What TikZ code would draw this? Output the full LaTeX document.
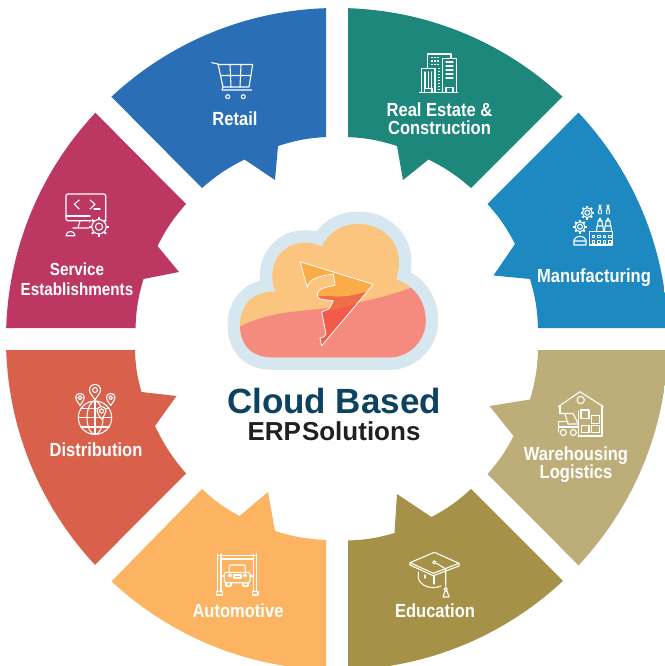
\documentclass[tikz,border=0pt]{standalone}
\usepackage{fontspec}
\setmainfont{Liberation Sans}
\newfontfamily\labfont[FakeStretch=0.87]{Liberation Sans}
\definecolor{cRetail}{HTML}{2A6EB5}
\definecolor{cEstate}{HTML}{1E877B}
\definecolor{cManu}{HTML}{1E88C0}
\definecolor{cWare}{HTML}{BDAD78}
\definecolor{cEdu}{HTML}{A59148}
\definecolor{cAuto}{HTML}{FCB462}
\definecolor{cDist}{HTML}{D9604B}
\definecolor{cServ}{HTML}{BC3863}
\definecolor{cHalo}{HTML}{D6E7F0}
\definecolor{cCloud}{HTML}{FBC580}
\definecolor{cSalmon}{HTML}{F58B7F}
\definecolor{cFa}{HTML}{FAAC48}
\definecolor{cFb}{HTML}{EF6E48}
\definecolor{cFc}{HTML}{F25A4A}
\definecolor{cTitle}{HTML}{0D4261}
\definecolor{cSub}{HTML}{231F20}
\newcommand{\cloudpath}{(271.7,357.3) -- (390,357.3)
 .. controls (410,357.3) and (425.7,340) .. (425.7,320.7)
 .. controls (425.7,300) and (413,285) .. (396,279.3)
 .. controls (398,274) and (399,268) .. (399,261.7)
 .. controls (399,240) and (381,224) .. (358.3,224)
 .. controls (340,224) and (328.3,233.3) .. (321.7,246.7)
 .. controls (316,243.5) and (311,242.7) .. (305,242.7)
 .. controls (285,242.7) and (272.3,258) .. (272.3,276)
 .. controls (272.3,283) and (273,288) .. (276,291.7)
 .. controls (252,290) and (240,306.7) .. (240,325)
 .. controls (240,345) and (252,357.3) .. (271.7,357.3) -- cycle}
\newcommand{\fpath}{(300,261.7) -- (373.3,284.3) -- (321.7,345.7) -- (320,338.3)
 .. controls (323,337) and (326,336.5) .. (326,334)
 -- (321.7,312) .. controls (326,310) and (330,309) .. (330.7,306)
 -- (333.3,300.7) -- (322,299.5) .. controls (317,299) and (316,294) .. (319,290.5)
 .. controls (322,287) and (330,287) .. (335,285)
 -- (333.3,274) .. controls (322,276) and (310,277) .. (307.3,287.3) -- cycle}
\tikzset{
 seg/.style={fill=#1,draw=none},
 icon/.style={draw=white,line width=1.1pt,line join=round,line cap=round},
 lab/.style={text=white,font=\labfont\bfseries\fontsize{19}{18}\selectfont,inner sep=0pt,align=center},
 labsmall/.style={lab,font=\labfont\bfseries\fontsize{17.5}{18}\selectfont},
 arcb/.style={bend left=7}
}
\newcommand{\gearic}[4]{%
 \fill[#4] (#1,#2) circle ({#3*1pt});
 \foreach \a in {0,45,...,315}
  \draw[icon,shift={(#1,#2)},line width=1.9pt,line cap=butt] (\a:{#3*0.72pt}) -- (\a:{#3*1pt});
 \draw[icon] (#1,#2) circle ({#3*0.72pt});
 \draw[icon] (#1,#2) circle ({#3*0.36pt});}
\newcommand{\pinic}[4]{%
 \filldraw[icon,fill=#4,shift={(#1,#2)},scale=#3] (0,1.8) .. controls (-.4,1.1) and (-1,.6) .. (-1,0)
  .. controls (-1,-.6) and (-.6,-1) .. (0,-1) .. controls (.6,-1) and (1,-.6) .. (1,0)
  .. controls (1,.6) and (.4,1.1) .. (0,1.8) -- cycle;
 \draw[icon] (#1,#2) circle ({#3*0.45pt});}
\begin{document}
\begin{tikzpicture}[x=1pt,y=-1pt]
\useasboundingbox (0,0) rectangle (664,666);
% ---------- segments
\begin{scope}
\clip (337,339) circle (331pt);
\fill[seg=cRetail] (202,188) to[arcb] (244.5,159.5) -- (275,180) -- (278,146) to[arcb] (326,137) -- (326,-5) -- (60,-5) -- (60,45) -- cycle;
\fill[seg=cServ] (135.5,328) to[arcb] (143.5,279) -- (179,272) -- (157.5,246) to[arcb] (186,204) -- (45,62) -- (-5,62) -- (-5,328) -- cycle;
\fill[seg=cEstate] (348,137) to[arcb] (397,146) -- (403,180) -- (428.5,159.5) to[arcb] (471,188) -- (620,39) -- (620,-5) -- (348,-5) -- cycle;
\fill[seg=cManu] (487.5,204) to[arcb] (515,244) -- (493.5,275.5) -- (530,279) to[arcb] (538,328) -- (670,328) -- (670,61) -- (630,61) -- cycle;
\fill[seg=cWare] (538,350) to[arcb] (530,399.5) -- (489.5,406) -- (513.5,436) to[arcb] (487.5,474) -- (630,617) -- (670,617) -- (670,350) -- cycle;
\fill[seg=cEdu] (471,489) to[arcb] (431.5,517) -- (397,494) -- (394.5,533) to[arcb] (348,540.5) -- (348,675) -- (625,675) -- (625,643) -- cycle;
\fill[seg=cAuto] (326,540) to[arcb] (275,531) -- (268,492) -- (239.5,516) to[arcb] (202,489) -- (60,634) -- (60,675) -- (326,675) -- cycle;
\fill[seg=cDist] (186,473.5) to[arcb] (155,426) -- (176.5,396) -- (141.5,392) to[arcb] (135,350) -- (-5,350) -- (-5,617) -- (45,615) -- cycle;
\end{scope}
% ---------- cloud
\draw[cHalo,line width=25pt,line join=round] \cloudpath;
\fill[cCloud] \cloudpath;
\begin{scope}
\clip \cloudpath;
\fill[cSalmon] (235,329) .. controls (265,313) and (290,312) .. (316.7,309.3)
 .. controls (353,305) and (386,297) .. (411,287.7) -- (440,287) -- (440,370) -- (235,370) -- cycle;
\end{scope}
\begin{scope}
\clip \fpath;
\fill[cFc] (295,255) rectangle (380,350);
\fill[cFb] (295,255) -- (380,255) -- (380,290) .. controls (360,306) and (340,308) .. (322,312) -- (295,312) -- cycle;
\fill[cFa] (295,255) rectangle (340,296);
\fill[cFa] (335,255) -- (380,255) -- (380,285) -- (369,291) .. controls (350,296) and (340,299) .. (320,294) -- (320,255) -- cycle;
\end{scope}
\draw[white,line width=0.8pt,line join=round] \fpath;
% ---------- title
\node[anchor=base,text=cTitle,font=\bfseries\fontsize{35}{35}\selectfont,inner sep=0pt] (title) at (334,413) {Cloud Based};
\node[anchor=base,text=cSub,font=\bfseries\fontsize{26}{26}\selectfont,inner sep=0pt] (subtitle) at (334,440) {ERP\hspace{1pt}Solutions};
% ---------- labels
\node[lab] (retail) at (235,118.5) {Retail};
\node[lab] (estate) at (439.5,118.5) {Real Estate \&\\[0pt]Construction};
\node[lab] (manu) at (594,278) {Manufacturing};
\node[lab] (ware) at (576,465) {Warehousing\\[0pt]Logistics};
\node[lab] (edu) at (435,611) {Education};
\node[lab] (auto) at (238,611) {Automotive};
\node[lab] (dist) at (96,450) {Distribution};
\node[labsmall] (serv1) at (77,269) {Service};
\node[labsmall] (serv2) at (77,289) {Establishments};
% ---------- cart
\draw[icon] (211.7,62.7) -- (218,64) -- (223,87) -- (249,87) -- (252.7,64.5) -- (218,64.5);
\draw[icon] (223,87) -- (222,90) -- (251.7,90);
\draw[icon] (230,64.5) -- (231,87) (241,64.5) -- (240,87) (220.5,75.5) -- (250.8,75.5);
\draw[icon] (227.7,96.7) circle (2pt) (243.3,96.7) circle (2pt);
% ---------- buildings
\draw[icon] (419.3,92.3) -- (457.7,92.3);
\draw[icon] (421.7,92.3) -- (421.7,68.3) -- (435,68.3) -- (435,92.3);
\draw[icon] (427.7,68.3) -- (427.7,54) -- (451,54) -- (451,58.3);
\draw[icon] (442.3,92.3) -- (442.3,58.3) -- (456.7,58.3) -- (456.7,92.3);
\draw[icon] (425,72) -- (425,88) (428.3,72) -- (428.3,88) (431.6,72) -- (431.6,88);
\draw[icon] (446,62) -- (453,62) (446,66) -- (453,66) (446,70) -- (453,70) (446,74) -- (453,74) (446,78) -- (453,78);
\draw[icon,dash pattern=on 1.5pt off 1.5pt,line cap=butt] (431,57.5) -- (440,57.5) (431,61) -- (440,61) (431,64.5) -- (440,64.5);
\draw[icon,dash pattern=on 1.5pt off 1.5pt,line cap=butt] (439,68) -- (439,90);
\draw[icon] (424.5,92.3) -- (424.5,88.5) -- (432,88.5) -- (432,92.3);
\draw[icon] (446,92.3) -- (446,87.5) -- (453,87.5) -- (453,92.3);
% ---------- service
\draw[icon,rounded corners=1.5pt] (66,194) rectangle (105.7,220.7);
\draw[icon] (66,216) -- (90,216);
\draw[icon] (79.3,200) -- (74.3,204.3) -- (79.3,209) (90,200) -- (95,204.3) -- (90,209);
\draw[icon] (94,209) -- (100,209);
\draw[icon] (80,220.7) -- (78,228) (90,220.7) -- (91,228) (73,228) -- (92,228);
\gearic{99}{226.7}{10}{cServ}
\draw[icon] (66,235.7) -- (75,235.7) .. controls (75,230) and (66,230) .. (66,235.7) -- cycle;
% ---------- manufacturing
\gearic{587.3}{212.7}{6.8}{cManu}
\gearic{580}{226.7}{6.8}{cManu}
\draw[icon] (589.3,231.7) rectangle (612.3,245);
\foreach \x in {592,597.5,603,608.5} \foreach \y in {235,240.5}
 \draw[icon,line width=.8pt] (\x,\y) rectangle +(2.5,2.5);
\draw[icon] (574,245) -- (586,245) -- (586,240) .. controls (584,235) and (576,235) .. (574,240) -- cycle (574,241) -- (586,241);
\foreach \x in {600,608}{
 \draw[icon] (\x-3.5,231.7) -- (\x-3,226) -- (\x+3,226) -- (\x+3.5,231.7);
 \draw[icon] (\x-2.5,226) -- (\x-2,221) -- (\x+2,221) -- (\x+2.5,226);
 \draw[icon] (\x-1.5,221) -- (\x,218) -- (\x+1.5,221);
 \draw[icon] (\x-1,214) .. controls (\x-3,210) and (\x+1,209) .. (\x-1,205);
 \draw[icon] (\x+1,214) .. controls (\x+3,210) and (\x-1,209) .. (\x+1,205);
}
% ---------- warehouse
\draw[icon] (558.3,406.7) -- (580,391.7) -- (603.3,406.7);
\draw[icon] (560,405.5) -- (560,413.5);
\draw[icon] (602,406) -- (602,436) -- (578,436);
\draw[icon] (580.7,400) circle (3.7pt);
\draw[icon] (581,410) rectangle (589,418.3) (591.7,415.7) rectangle (599.3,423.3);
\draw[icon] (581.7,425.7) rectangle (589,432.7) (591.7,425.7) rectangle (599.3,432.7);
\draw[icon] (578.5,411) -- (578.5,436);
\draw[icon] (560,413.5) -- (573,413.5) -- (578.3,424) (565,414) -- (568,424) -- (578.3,424);
\draw[icon] (558.3,432) -- (558.3,421.7) -- (568,421.7) (558.3,427) -- (578.3,427);
\filldraw[icon,fill=cWare] (563.3,432.5) circle (3pt) (573.3,432.5) circle (3pt);
% ---------- education
\draw[icon] (410,562.7) -- (434.3,552.3) -- (459,563.3) -- (433.3,573.3) -- cycle;
\draw[icon] (410,562.7) -- (410,565) -- (433.3,575.7) -- (459,566) -- (459,563.3);
\draw[icon] (418.3,572) -- (418.3,578) .. controls (420,586) and (432,590) .. (441,586);
\draw[icon] (434,576) -- (434,584) (425,575) -- (425,578);
\draw[icon] (434.3,562.3) circle (1.6pt);
\draw[icon] (436,563) -- (445.7,569) -- (445.7,586);
\draw[icon] (445.7,589) circle (1.6pt) (443,597) -- (445,591) -- (447,591) -- (449,597) -- cycle;
% ---------- automotive
\draw[icon] (217.7,554) -- (217.7,591.7) (221,554) -- (221,591.7) (253.3,554) -- (253.3,591.7) (256.7,554) -- (256.7,591.7);
\draw[icon] (217.7,555.7) -- (256.7,555.7) (221,559) -- (253.3,559);
\draw[icon] (216.7,595) -- (222.3,595) -- (222.3,591.7) -- (216.7,591.7) -- cycle (252.3,595) -- (258,595) -- (258,591.7) -- (252.3,591.7) -- cycle;
\draw[icon,rounded corners=1pt] (229,572.3) -- (229.3,565) -- (245,565) -- (245.5,572.3);
\draw[icon,rounded corners=1.5pt] (224.3,572.3) rectangle (250,582.7);
\draw[icon] (234,575) rectangle (241,578);
\draw[icon] (230,575.5) circle (1.5pt) (245,575.5) circle (1.5pt);
\draw[icon] (226,582.7) -- (226,586) -- (231,586) -- (231,582.7) (243,582.7) -- (243,586) -- (248,586) -- (248,582.7);
\draw[icon] (221,576) -- (224,576) (250,576) -- (253,576);
% ---------- distribution
\draw[icon] (95,417.7) circle (16.7pt);
\draw[icon] (95,417.7) ellipse (8pt and 16.7pt);
\draw[icon] (95,401) -- (95,434.4) (78.3,417.7) -- (111.7,417.7);
\draw[icon] (81,408.5) -- (109,408.5) (81,427) -- (109,427);
\pinic{101.5}{411}{4.5}{cDist}
\pinic{95}{390}{5.5}{cDist}
\pinic{80}{397.7}{4.3}{cDist}
\pinic{110.7}{397.7}{4.3}{cDist}
\end{tikzpicture}
\end{document}
